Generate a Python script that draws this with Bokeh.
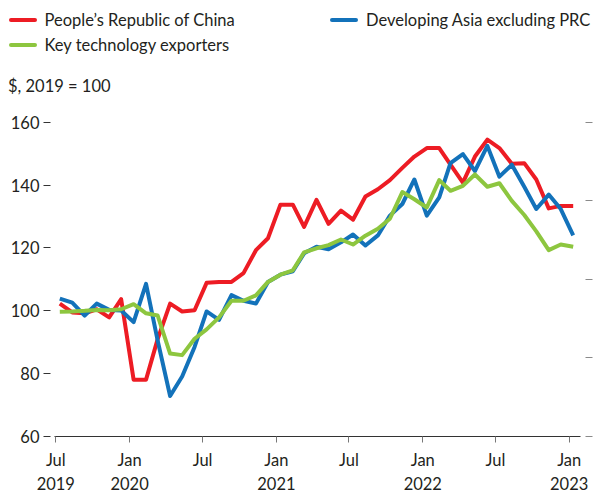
import pandas as pd
from bokeh.plotting import figure
from bokeh.layouts import column
from bokeh.models import FixedTicker, LinearAxis, Range1d, Div
from bokeh.embed import file_html
from bokeh.resources import INLINE

# ---- data (monthly, Jul 2019 .. Jan 2023), $, 2019 = 100 ----
months = pd.date_range("2019-07-01", periods=43, freq="MS") + pd.Timedelta(days=10)

prc = [102.3, 99.5, 99.2, 100.5, 97.9, 103.7, 78.1, 78.1, 91.0, 102.3,
       99.8, 100.2, 108.9, 109.2, 109.2, 112.0, 119.3, 123.1, 133.8, 133.8,
       126.7, 135.3, 127.7, 131.9, 129.0, 136.4, 138.7, 141.6, 145.5, 149.1,
       151.8, 151.8, 146.5, 140.8, 149.1, 154.5, 151.8, 146.8, 147.0, 141.8,
       132.6, 133.4, 133.4]

dev_asia = [103.9, 102.6, 98.5, 102.3, 100.3, 100.1, 96.4, 108.6, 90.5, 72.9,
            79.1, 88.5, 99.8, 97.1, 105.0, 103.2, 102.3, 109.2, 111.5, 112.6,
            118.3, 120.4, 119.6, 121.8, 124.3, 120.8, 124.0, 130.3, 134.0, 141.8,
            130.3, 136.1, 147.0, 149.9, 144.5, 152.5, 142.7, 146.5, 139.5, 132.4,
            137.0, 132.4, 124.0]

key_tech = [99.7, 99.8, 100.0, 100.3, 100.2, 100.5, 102.1, 99.2, 98.5, 86.4,
            85.9, 91.1, 94.1, 97.9, 103.2, 103.2, 104.9, 109.2, 111.5, 112.9,
            118.6, 119.9, 120.9, 122.7, 121.1, 123.9, 126.1, 129.3, 137.8, 135.5,
            132.9, 141.6, 138.2, 139.8, 143.4, 139.5, 140.6, 135.0, 130.5, 125.3,
            119.3, 121.1, 120.4]

series_names = ["People\u2019s Republic of China", "Developing Asia excluding PRC",
                "Key technology exporters"]
series_colors = ["#ED1C24", "#1372BA", "#8DC63F"]

x_tick_dates = ["2019-07-01", "2020-01-01", "2020-07-01", "2021-01-01",
                "2021-07-01", "2022-01-01", "2022-07-01", "2023-01-01"]
x_tick_labels = ["Jul\n2019", "Jan\n2020", "Jul", "Jan\n2021",
                 "Jul", "Jan\n2022", "Jul", "Jan\n2023"]
y_ticks = [60, 80, 100, 120, 140, 160]
right_ticks = [60, 85, 110, 135, 160]
unit_label = "$, 2019 = 100"

FONT = "Lato"
TXT = "#231F20"
FS = "16.5px"

# ---------------- header: legend + unit label ----------------
legend_pos = [(8.5, 10), (330, 10), (8.5, 35)]   # (left, top) of each legend row box


def legend_item(name, color, left, top):
    return (f'<div style="position:absolute;left:{left}px;top:{top}px;height:20px;'
            f'display:flex;align-items:center;white-space:nowrap;">'
            f'<span style="display:inline-block;width:28px;height:4px;border-radius:2px;'
            f'background:{color};margin-right:8px;"></span>{name}</div>')


head_html = (f'<div style="position:relative;width:597px;height:97px;font-family:{FONT};'
             f'font-size:{FS};color:{TXT};line-height:20px;">'
             + "".join(legend_item(n, c, l, t) for n, c, (l, t)
                       in zip(series_names, series_colors, legend_pos))
             + f'<div style="position:absolute;left:8px;top:76px;white-space:nowrap;">'
               f'{unit_label}</div></div>')
head = Div(text=head_html, width=597, height=97, margin=0)

# ---------------- main chart ----------------
x_start = pd.Timestamp("2019-07-01") - pd.Timedelta(days=3.24)
x_end = pd.Timestamp("2023-01-01") + pd.Timedelta(days=28.2)

p = figure(width=597, height=399, x_axis_type="datetime",
           x_range=Range1d(x_start, x_end), y_range=Range1d(60, 165.35),
           output_backend="svg", toolbar_location=None,
           min_border_left=54, min_border_right=17, min_border_top=8,
           min_border_bottom=56, margin=0)
p.outline_line_color = None
p.xgrid.visible = False
p.ygrid.visible = False

for vals, col in zip([prc, dev_asia, key_tech], series_colors):
    p.line(months, vals, line_color=col, line_width=4, line_join="round")

# x axis
xa = p.xaxis[0]
tick_ms = [int(pd.Timestamp(d).value // 10**6) for d in x_tick_dates]
xa.ticker = FixedTicker(ticks=tick_ms)
xa.major_label_overrides = {t: l for t, l in zip(tick_ms, x_tick_labels)}
xa.minor_tick_line_color = None
xa.axis_line_color = "#333333"
xa.major_tick_line_color = "#777777"
xa.major_tick_out = 6
xa.major_tick_in = 0
xa.major_label_standoff = 7
xa.major_label_text_font = FONT
xa.major_label_text_font_size = FS
xa.major_label_text_color = TXT

# left y axis
ya = p.yaxis[0]
ya.ticker = FixedTicker(ticks=y_ticks)
ya.axis_line_color = None
ya.minor_tick_line_color = None
ya.major_tick_line_color = "#333333"
ya.major_tick_in = -4
ya.major_tick_out = 11
ya.major_label_standoff = 4
ya.major_label_text_font = FONT
ya.major_label_text_font_size = FS
ya.major_label_text_color = TXT

# right axis (unlabelled ticks)
ra = LinearAxis(ticker=FixedTicker(ticks=right_ticks),
                major_label_overrides={t: "" for t in right_ticks})
ra.axis_line_color = None
ra.minor_tick_line_color = None
ra.major_tick_line_color = "#8A8A8A"
ra.major_tick_in = -5
ra.major_tick_out = 12
ra.major_label_standoff = 0
p.add_layout(ra, "right")

layout = column(head, p, spacing=0)
open("out.html", "w").write(file_html(layout, INLINE))
